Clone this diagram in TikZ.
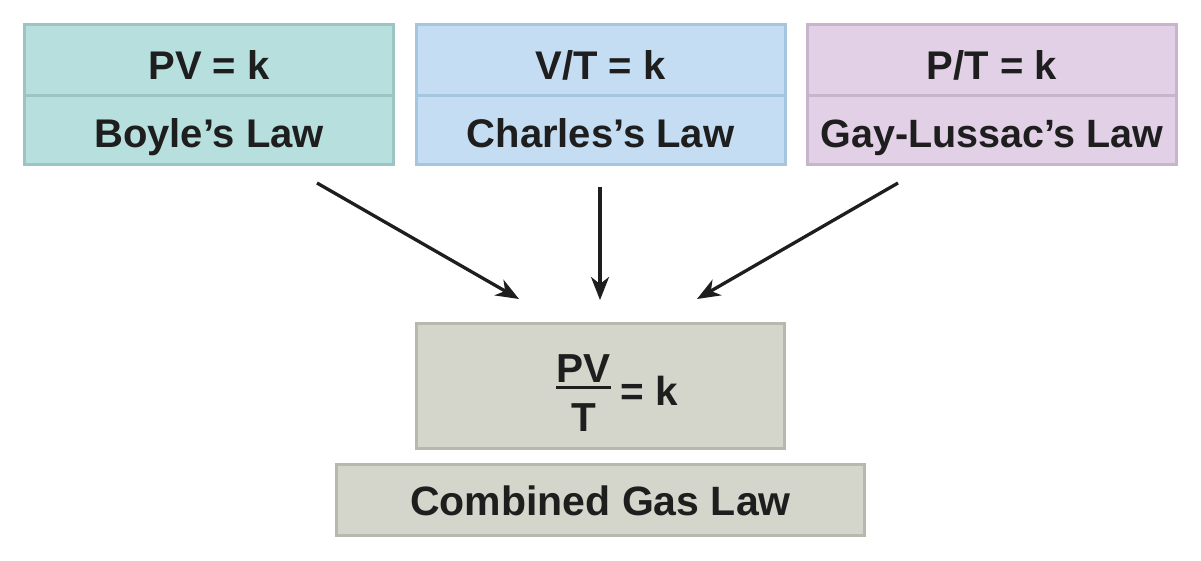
\documentclass[tikz,border=0pt]{standalone}
\usepackage{fontspec}
\setmainfont{Liberation Sans}
\usetikzlibrary{arrows.meta}
\definecolor{tealF}{HTML}{B6DFDD}
\definecolor{tealD}{HTML}{9DC4C4}
\definecolor{blueF}{HTML}{C4DDF3}
\definecolor{blueD}{HTML}{A6C6E0}
\definecolor{purpF}{HTML}{E2D0E6}
\definecolor{purpD}{HTML}{C6B5CB}
\definecolor{grayF}{HTML}{D5D6CB}
\definecolor{grayD}{HTML}{B7B8AE}
\definecolor{ink}{HTML}{1E1E1E}
\begin{document}
\begin{tikzpicture}[x=1pt,y=-1pt,
  box/.style={draw, line width=3pt, inner sep=0pt, text=ink, align=center,
    font=\fontsize{40}{48}\selectfont\bfseries},
  toppart/.style={box, minimum width=369pt, text height=54.5pt, text depth=16pt},
  botpart/.style={box, minimum width=369pt, text height=52pt, text depth=17.5pt},
  conn/.style={draw=ink, line width=3.3pt, -{Stealth[length=23pt,width=18pt,inset=7pt]}},
  fml/.style={inner sep=0pt, anchor=base, text=ink, font=\fontsize{40.5}{48}\selectfont\bfseries}
]
\useasboundingbox (0,0) rectangle (1201,560);
\fill[white] (0,0) rectangle (1201,560);

% top boxes
\node[toppart, fill=tealF, draw=tealD] (b1t) at (209,59.75) {PV = k};
\node[botpart, fill=tealF, draw=tealD] (b1b) at (209,129.75) {Boyle’s Law};
\node[toppart, fill=blueF, draw=blueD] (b2t) at (600.5,59.75) {V/T = k};
\node[botpart, fill=blueF, draw=blueD] (b2b) at (600.5,129.75) {Charles’s Law};
\node[toppart, fill=purpF, draw=purpD] (b3t) at (992,59.75) {P/T = k};
\node[botpart, fill=purpF, draw=purpD, font=\fontsize{39.5}{48}\selectfont\bfseries] (b3b) at (992,129.75) {Gay-Lussac’s Law};

% formula box
\node[box, fill=grayF, draw=grayD, minimum width=368pt, minimum height=125pt] (fb) at (600.5,386) {};
\node[fml] (pv) at (583.5,382) {PV};
\node[fml] (tt) at (583.5,431) {T};
\draw[ink, line width=3.5pt] (556,387.5) -- (611,387.5);
\node[fml, anchor=base west] (eqk) at (620,405) {= k};

% combined box
\node[box, fill=grayF, draw=grayD, minimum width=528pt, text height=50.5pt, text depth=20.5pt,
  font=\fontsize{41}{48}\selectfont\bfseries] (cb) at (600.5,500) {Combined Gas Law};

% arrows
\coordinate (s1) at (317,183);
\coordinate (e1) at (519,299);
\coordinate (s2) at (600,187);
\coordinate (e2) at (600,300);
\coordinate (s3) at (898,183);
\coordinate (e3) at (697,299);
\draw[conn] (s1) -- (e1);
\draw[conn] (s2) -- (e2);
\draw[conn] (s3) -- (e3);
\end{tikzpicture}
\end{document}
